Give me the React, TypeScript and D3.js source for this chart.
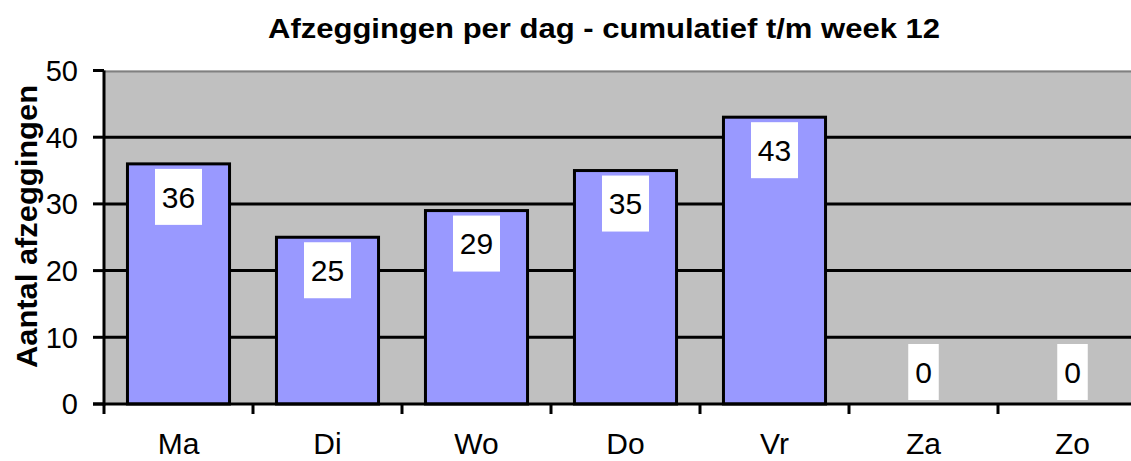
import React from "react";
import * as d3 from "d3";

const categories = ["Ma", "Di", "Wo", "Do", "Vr", "Za", "Zo"];
const values = [36, 25, 29, 35, 43, 0, 0];
const yTicks = [0, 10, 20, 30, 40, 50];
const title = "Afzeggingen per dag - cumulatief t/m week 12";
const yTitle = "Aantal afzeggingen";

const W = 1131;
const H = 461;
const left = 104;
const step = 149;
const font = "'Liberation Sans', Arial, sans-serif";

export default function App() {
  const x = d3
    .scaleBand<string>()
    .domain(categories)
    .range([left, left + step * categories.length])
    .paddingInner(0.315)
    .paddingOuter(0.1575);
  const y = d3.scaleLinear().domain([0, 50]).range([404, 70.5]);
  const right = left + step * categories.length;
  const y0 = y(0);

  return (
    <svg
      width={W}
      height={H}
      style={{ position: "absolute", left: 0, top: 0, background: "#fff" }}
    >
      <rect x={left} y={y(50)} width={right - left} height={y0 - y(50)} fill="#C0C0C0" />
      <line x1={left} x2={right} y1={y(50) + 1} y2={y(50) + 1} stroke="#808080" strokeWidth={2} />
      {yTicks
        .filter((t) => t > 0 && t < 50)
        .map((t) => (
          <line key={t} x1={left} x2={right} y1={y(t)} y2={y(t)} stroke="#000" strokeWidth={3} />
        ))}
      {categories.map((c, i) =>
        values[i] > 0 ? (
          <rect
            key={c}
            x={x(c)!}
            y={y(values[i])}
            width={x.bandwidth()}
            height={y0 - y(values[i])}
            fill="#9999FF"
            stroke="#000"
            strokeWidth={3}
          />
        ) : null
      )}
      {/* axes */}
      <line x1={left} x2={left} y1={y(50)} y2={y0 + 1.5} stroke="#000" strokeWidth={3} />
      <line x1={left - 11} x2={right} y1={y0} y2={y0} stroke="#000" strokeWidth={3} />
      {yTicks.map((t) => (
        <g key={t}>
          <line x1={left - 11} x2={left} y1={y(t)} y2={y(t)} stroke="#000" strokeWidth={3} />
          <text
            x={78}
            y={y(t)}
            dy="0.36em"
            textAnchor="end"
            fontFamily={font}
            fontSize={29}
            fill="#000"
          >
            {t}
          </text>
        </g>
      ))}
      {d3.range(categories.length + 1).map((i) => (
        <line
          key={i}
          x1={left + i * step}
          x2={left + i * step}
          y1={y0}
          y2={y0 + 10}
          stroke="#000"
          strokeWidth={3}
        />
      ))}
      {categories.map((c) => (
        <text
          key={c}
          x={x(c)! + x.bandwidth() / 2}
          y={454}
          textAnchor="middle"
          fontFamily={font}
          fontSize={30}
          fill="#000"
        >
          {c}
        </text>
      ))}
      {/* data labels */}
      {categories.map((c, i) => {
        const v = values[i];
        const label = String(v);
        const bw = label.length * 16.5 + 14;
        const bh = 56;
        const top = Math.min(y(v) + 5, y0 - 4 - bh);
        const cx = x(c)! + x.bandwidth() / 2;
        return (
          <g key={c}>
            <rect x={cx - bw / 2} y={top} width={bw} height={bh} fill="#fff" />
            <text
              x={cx}
              y={top + bh / 2}
              dy="0.36em"
              textAnchor="middle"
              fontFamily={font}
              fontSize={30}
              fill="#000"
            >
              {label}
            </text>
          </g>
        );
      })}
      <text
        x={604}
        y={38}
        textAnchor="middle"
        fontFamily={font}
        fontWeight="bold"
        fontSize={28}
        textLength={672}
        lengthAdjust="spacingAndGlyphs"
        fill="#000"
      >
        {title}
      </text>
      <text
        transform={`translate(37, ${226.5}) rotate(-90)`}
        textAnchor="middle"
        fontFamily={font}
        fontWeight="bold"
        fontSize={29}
        textLength={283}
        lengthAdjust="spacingAndGlyphs"
        fill="#000"
      >
        {yTitle}
      </text>
    </svg>
  );
}
